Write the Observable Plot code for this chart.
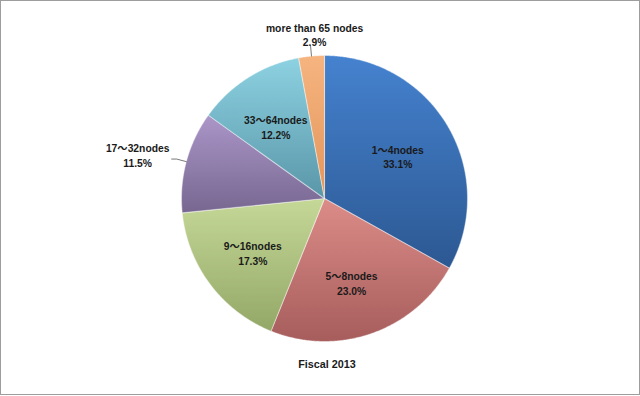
<!DOCTYPE html>
<html>
<head>
<meta charset="utf-8">
<script src="https://cdn.jsdelivr.net/npm/d3@7"></script>
<script src="https://cdn.jsdelivr.net/npm/@observablehq/plot@0.6"></script>
<style>
  html, body { margin: 0; padding: 0; background: #fff; }
  #frame { position: relative; width: 640px; height: 396px; overflow: hidden; }
  #border { position: absolute; left: 0; top: 0; width: 640px; height: 395px; box-sizing: border-box; border: 1px solid #9d9d9d; pointer-events: none; }
  #chart { position: absolute; left: 0; top: 0; }
  #caption { position: absolute; left: 14px; top: 357px; width: 626px; text-align: center;
    font-family: "Liberation Sans", Arial, sans-serif; font-weight: bold; font-size: 10.8px; line-height: 14px; color: #1a1a1a; }
</style>
</head>
<body>
<div id="frame">
  <div id="chart"></div>
  <div id="caption"></div>
  <div id="border"></div>
</div>
<script>
// ---- data ----
const categories = ["1～4nodes", "5～8nodes", "9～16nodes", "17～32nodes", "33～64nodes", "more than 65 nodes"];
const shares = [33.1, 23.0, 17.3, 11.5, 12.2, 2.9];
const chartTitle = "Fiscal 2013";
const outsideLabels = ["17～32nodes", "more than 65 nodes"];

// ---- styles ----
const topColors    = ["#4582cf", "#dc8c88", "#c5d898", "#ab96c8", "#8dd2e2", "#f6b480"];
const bottomColors = ["#2c5892", "#a65d5c", "#93a767", "#776790", "#5996a8", "#e3955a"];
const fontFamily = "'Liberation Sans', Arial, 'Noto Sans CJK JP', sans-serif";

// ---- geometry from data ----
const arcs = d3.pie().sort(null).value(d => d)(shares);
const slices = categories.map((name, i) => ({
  name, value: shares[i], i,
  start: arcs[i].startAngle, end: arcs[i].endAngle,
  mid: (arcs[i].startAngle + arcs[i].endAngle) / 2
}));

function outline(s) {
  const pts = [{x: 0, y: 0}];
  const n = Math.max(2, Math.ceil((s.end - s.start) / (Math.PI / 360)));
  for (let k = 0; k <= n; k++) {
    const a = s.start + (s.end - s.start) * k / n;
    pts.push({x: Math.sin(a), y: Math.cos(a)});
  }
  pts.push({x: 0, y: 0});
  return pts;
}
const labelText = s => `${s.name}\n${s.value.toFixed(1)}%`;

const insideR = 0.61, leaderR = 1.07;
const inside = slices.filter(s => !outsideLabels.includes(s.name))
  .map(s => ({x: insideR * Math.sin(s.mid), y: insideR * Math.cos(s.mid), text: labelText(s)}));
const outside = slices.filter(s => outsideLabels.includes(s.name)).map(s => {
  const side = Math.abs(Math.sin(s.mid)) > 0.5;
  const ex = leaderR * Math.sin(s.mid), ey = leaderR * Math.cos(s.mid);
  const pts = [{x: Math.sin(s.mid), y: Math.cos(s.mid)}, {x: ex, y: ey}];
  if (side) pts.push({x: ex + Math.sign(Math.sin(s.mid)) * 0.035, y: ey});
  const last = pts[pts.length - 1];
  return {side, pts, x: last.x, y: last.y, text: labelText(s)};
});

const textStyle = {fontFamily, fontWeight: "bold", fontSize: 10.3, lineHeight: 1.4, fill: "#1a1a1a"};

const svg = Plot.plot({
  width: 640, height: 350,
  margin: 0,
  x: {domain: [-1, 1], range: [181, 467], axis: null},
  y: {domain: [-1, 1], range: [341, 55], axis: null},
  style: {background: "transparent", overflow: "visible"},
  marks: [
    ...slices.map(s => Plot.line(outline(s), {
      x: "x", y: "y", curve: "linear",
      fill: `url(#grad${s.i})`, stroke: "#ffffff", strokeOpacity: 0.4, strokeWidth: 1.1, strokeLinejoin: "round"
    })),
    ...outside.map(o => Plot.line(o.pts, {x: "x", y: "y", stroke: "#555", strokeWidth: 0.8})),
    Plot.text(inside, {x: "x", y: "y", text: "text", dx: -2, dy: 2, ...textStyle}),
    Plot.text(outside.filter(o => o.side), {x: "x", y: "y", text: "text", dx: -34, dy: -4, ...textStyle}),
    Plot.text(outside.filter(o => !o.side), {x: "x", y: "y", text: "text", dx: 4, dy: -12, ...textStyle})
  ]
});

const defs = d3.select(svg).insert("defs", ":first-child");
slices.forEach(s => {
  const g = defs.append("linearGradient").attr("id", `grad${s.i}`)
    .attr("x1", 0).attr("y1", 0).attr("x2", 0).attr("y2", 1);
  g.append("stop").attr("offset", "0%").attr("stop-color", topColors[s.i]);
  g.append("stop").attr("offset", "100%").attr("stop-color", bottomColors[s.i]);
});

document.getElementById("chart").appendChild(svg);
document.getElementById("caption").textContent = chartTitle;
</script>
</body>
</html>
